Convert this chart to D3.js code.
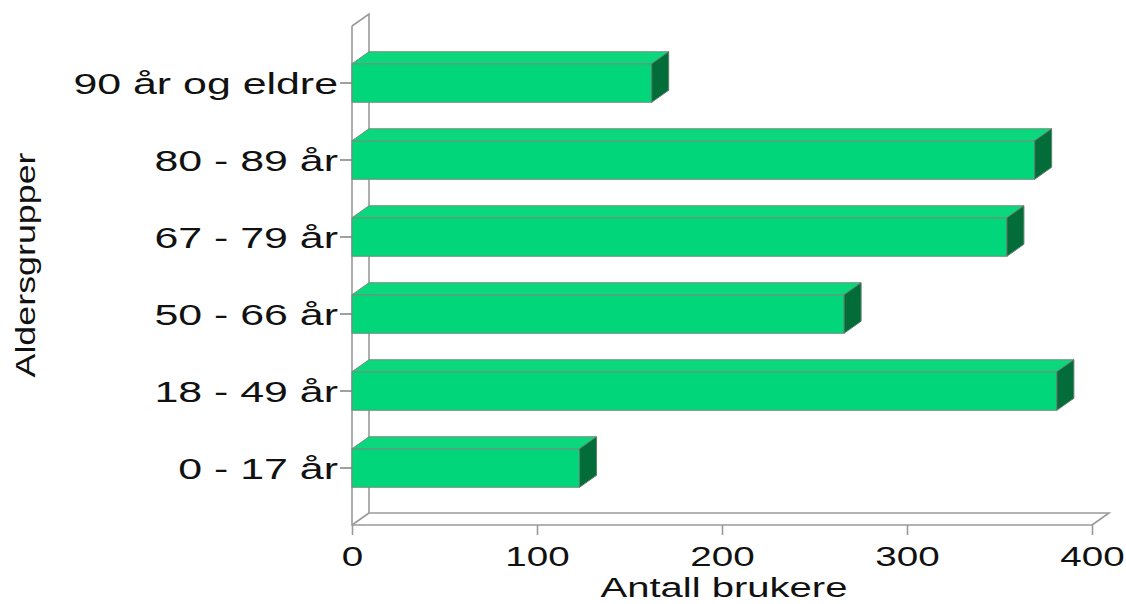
<!DOCTYPE html>
<html>
<head>
<meta charset="utf-8">
<script src="https://cdn.jsdelivr.net/npm/d3@7"></script>
<style>
  body { margin: 0; background: #fff; }
  text { font-family: "Liberation Sans", Arial, sans-serif; fill: #111; }
</style>
</head>
<body>
<div id="chart-area"></div>
<script>
const categories = ["90 år og eldre", "80 - 89 år", "67 - 79 år", "50 - 66 år", "18 - 49 år", "0 - 17 år"];
const values = [162, 369, 354, 266, 381, 123];
const xTicks = [0, 100, 200, 300, 400];
const xTitle = "Antall brukere";
const yTitle = "Aldersgrupper";

const W = 1126, H = 604;
const SX = 1.43; // text is stretched wide in the reference
const DX = 17, DY = -12; // 3d depth

const svg = d3.select("#chart-area").append("svg").attr("width", W).attr("height", H);

const x = d3.scaleLinear().domain([0, 400]).range([352, 1092]);
const y = d3.scaleBand().domain(categories).range([44.5, 506.5]).paddingInner(0.5).paddingOuter(0.25);

const wallTop = 26, wallBase = 525;
const wall = svg.append("g").attr("stroke", "#9a9a9a").attr("stroke-width", 1.6).attr("fill", "none");
// back wall + floor
wall.append("path").attr("d", `M${x(0)},${wallTop} L${x(0) + DX},${wallTop + DY} L${x(0) + DX},${wallBase + DY} L${x(400) + DX},${wallBase + DY} L${x(400)},${wallBase}`);
wall.append("path").attr("d", `M${x(0) + DX},${wallBase + DY} L${x(0)},${wallBase}`);
// front axes
wall.append("path").attr("d", `M${x(0)},${wallTop} L${x(0)},${wallBase} L${x(400)},${wallBase}`);

// x ticks
const xAxis = svg.append("g").attr("transform", `translate(0,${wallBase})`)
  .call(d3.axisBottom(x).tickValues(xTicks).tickSize(10).tickSizeOuter(0).tickPadding(8));
xAxis.select(".domain").remove();
xAxis.selectAll("line").attr("stroke", "#9a9a9a").attr("stroke-width", 1.6);
xAxis.selectAll("text").attr("font-size", "27px").attr("fill", "#111")
  .attr("dy", "0.85em").attr("transform", `scale(${SX},1)`);

// y ticks
const yAxis = svg.append("g").attr("transform", `translate(${x(0)},0)`)
  .call(d3.axisLeft(y).tickSize(12).tickSizeOuter(0));
yAxis.select(".domain").remove();
yAxis.selectAll("line").attr("stroke", "#777").attr("stroke-width", 1.4);
yAxis.selectAll("text").attr("font-size", "30px").attr("fill", "#111")
  .attr("x", -14 / SX)
  .attr("dy", "0.36em").attr("transform", `scale(${SX},1)`);

// bars
const bars = svg.selectAll(".bar").data(categories).enter().append("g").attr("class", "bar");
bars.append("rect")
  .attr("x", x(0))
  .attr("y", d => y(d))
  .attr("width", (d, i) => x(values[i]) - x(0))
  .attr("height", y.bandwidth())
  .attr("fill", "#02d67a").attr("stroke", "#6f8f7c").attr("stroke-width", 1);
bars.append("path")
  .attr("d", (d, i) => {
    const t = y(d), r = x(values[i]), l = x(0);
    return `M${l},${t} L${l + DX},${t + DY} L${r + DX},${t + DY} L${r},${t} Z`;
  })
  .attr("fill", "#0bd87d").attr("stroke", "#6f8f7c").attr("stroke-width", 1);
bars.append("path")
  .attr("d", (d, i) => {
    const t = y(d), b = t + y.bandwidth(), r = x(values[i]);
    return `M${r},${t} L${r + DX},${t + DY} L${r + DX},${b + DY} L${r},${b} Z`;
  })
  .attr("fill", "#036d3a").attr("stroke", "#5f7f6c").attr("stroke-width", 1);

// titles
svg.append("text")
  .attr("text-anchor", "middle")
  .attr("font-size", "28px")
  .attr("transform", `translate(724,597) scale(${SX},1)`)
  .text(xTitle);

svg.append("text")
  .attr("text-anchor", "middle")
  .attr("font-size", "28px")
  .attr("transform", `translate(35,265) rotate(-90) scale(1.28,1)`)
  .text(yTitle);
</script>
</body>
</html>
